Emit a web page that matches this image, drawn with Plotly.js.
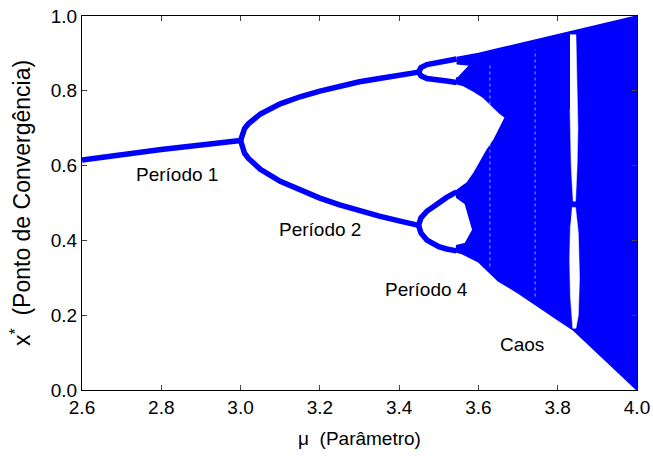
<!DOCTYPE html>
<html><head><meta charset="utf-8">
<script src="https://cdn.plot.ly/plotly-3.0.1.min.js"></script>
<style>html,body{margin:0;padding:0;background:#fff}</style>
</head><body><div id="chart" style="width:653px;height:457px"></div>
<script>
// Period 1 branch
const p1Mu = [2.6, 2.7, 2.8, 2.9, 3.0];
const p1X  = [0.615, 0.630, 0.643, 0.655, 0.667];
// Period 2 branches
const p2Mu    = [3.0, 3.01, 3.02, 3.05, 3.1, 3.15, 3.2, 3.25, 3.3, 3.35, 3.4, 3.449];
const p2Upper = [0.667, 0.699, 0.712, 0.738, 0.765, 0.784, 0.799, 0.812, 0.824, 0.833, 0.842, 0.850];
const p2Lower = [0.667, 0.633, 0.619, 0.590, 0.558, 0.534, 0.513, 0.495, 0.479, 0.465, 0.452, 0.440];
// Period 4 branches
const p4Mu   = [3.449, 3.455, 3.47, 3.5, 3.52, 3.545];
const p4A    = [0.850, 0.862, 0.870, 0.875, 0.879, 0.885];
const p4B    = [0.850, 0.840, 0.833, 0.827, 0.826, 0.822];
const p4C    = [0.440, 0.460, 0.478, 0.501, 0.515, 0.530];
const p4D    = [0.440, 0.420, 0.401, 0.383, 0.377, 0.372];
// Chaotic region envelopes
const topMu  = [3.545, 3.56, 3.60, 3.65, 3.70, 3.75, 3.80, 3.85, 3.90, 3.95, 4.00];
const topX   = [0.889, 0.892, 0.900, 0.9125, 0.925, 0.9375, 0.950, 0.9625, 0.975, 0.9875, 1.0];
const botMu  = [3.545, 3.56, 3.60, 3.65, 3.70, 3.75, 3.80, 3.84, 3.86, 3.90, 3.95, 4.00];
const botX   = [0.369, 0.364, 0.343, 0.292, 0.260, 0.224, 0.188, 0.160, 0.138, 0.098, 0.050, 0.0];
// Inner edges of the two bands before merging
const lowInMu = [3.545, 3.56, 3.571, 3.59, 3.604, 3.621, 3.64, 3.655, 3.668];
const lowInX  = [0.533, 0.545, 0.553, 0.582, 0.607, 0.640, 0.670, 0.700, 0.729];
const upInMu  = [3.545, 3.56, 3.571, 3.59, 3.612, 3.63, 3.654, 3.668];
const upInX   = [0.819, 0.815, 0.810, 0.798, 0.783, 0.766, 0.740, 0.729];
// Loop holes near the band start
const lowHoleMu = [3.545, 3.567, 3.586, 3.567, 3.545];
const lowHoleX  = [0.386, 0.392, 0.428, 0.498, 0.515];
const upHoleMu  = [3.545, 3.550, 3.579, 3.545];
const upHoleX   = [0.834, 0.836, 0.869, 0.872];
// Period-3 window (white stripe)
const w3UpMu  = [3.831, 3.846, 3.848, 3.851, 3.849, 3.845, 3.839, 3.834, 3.831];
const w3UpX   = [0.950, 0.950, 0.850, 0.700, 0.600, 0.505, 0.505, 0.600, 0.750];
const w3LoMu  = [3.836, 3.845, 3.852, 3.855, 3.852, 3.846, 3.838, 3.832, 3.830, 3.832];
const w3LoX   = [0.488, 0.488, 0.420, 0.300, 0.200, 0.165, 0.165, 0.250, 0.350, 0.440];
// Narrow windows
const w6Mu = [3.629, 3.629], w6X = [0.33, 0.87];
const w5Mu = [3.743, 3.743], w5X = [0.25, 0.91];
// Labels
const labText = ['Período 1', 'Período 2', 'Período 4', 'Caos'];
const labMu   = [2.84, 3.20, 3.470, 3.71];
const labX    = [0.575, 0.430, 0.270, 0.122];

const BLUE = '#0000ff';
const rev = a => a.slice().reverse();
const polyMu = [].concat(topMu, rev(botMu), lowHoleMu, lowInMu, rev(upInMu), upHoleMu);
const polyX  = [].concat(topX, rev(botX), lowHoleX, lowInX, rev(upInX), upHoleX);

const lineTrace = (x, y) => ({x, y, type:'scatter', mode:'lines', line:{color:BLUE, width:5.5}, hoverinfo:'skip'});
const traces = [
  {x: polyMu, y: polyX, type:'scatter', mode:'lines', fill:'toself', fillcolor:BLUE, line:{color:BLUE, width:1.5}},
  {x: w3UpMu, y: w3UpX, type:'scatter', mode:'lines', fill:'toself', fillcolor:'#ffffff', line:{color:'#ffffff', width:0.5}},
  {x: w3LoMu, y: w3LoX, type:'scatter', mode:'lines', fill:'toself', fillcolor:'#ffffff', line:{color:'#ffffff', width:0.5}},
  {x: w6Mu, y: w6X, type:'scatter', mode:'lines', line:{color:'rgba(255,255,255,0.6)', width:1, dash:'dot'}},
  {x: w5Mu, y: w5X, type:'scatter', mode:'lines', line:{color:'rgba(255,255,255,0.6)', width:1, dash:'dot'}},
  lineTrace(p1Mu, p1X),
  lineTrace(p2Mu, p2Upper), lineTrace(p2Mu, p2Lower),
  lineTrace(p4Mu, p4A), lineTrace(p4Mu, p4B), lineTrace(p4Mu, p4C), lineTrace(p4Mu, p4D)
];

const FONT = {family:'"Liberation Sans", Arial, sans-serif', size:19, color:'#000'};
const YFONT = {family:'"Liberation Sans", Arial, sans-serif', size:23, color:'#000'};
const layout = {
  width:653, height:457, showlegend:false,
  margin:{l:82, r:16, t:16, b:67},
  paper_bgcolor:'#fff', plot_bgcolor:'#fff',
  font: FONT,
  xaxis:{range:[2.6,4.0], dtick:0.2, tick0:2.6, tickformat:'.1f', ticks:'inside', ticklen:5, mirror:'ticks',
         showline:true, linecolor:'#000', linewidth:1, showgrid:false, zeroline:false, tickfont:FONT,
         title:{text:'μ  (Parâmetro)', font:FONT, standoff:14}},
  yaxis:{range:[0,1.0], dtick:0.2, tick0:0, tickformat:'.1f', ticks:'inside', ticklen:5, mirror:'ticks',
         showline:true, linecolor:'#000', linewidth:1, showgrid:false, zeroline:false, tickfont:FONT,
         title:{text:'x<sup>*</sup>  (Ponto de Convergência)', font:YFONT, standoff:13}},
  annotations: labText.map((t,i)=>({x:labMu[i], y:labX[i], text:t, showarrow:false, font:FONT, xanchor:'center', yanchor:'middle'}))
};
Plotly.newPlot('chart', traces, layout, {staticPlot:true, displayModeBar:false});
</script></body></html>
